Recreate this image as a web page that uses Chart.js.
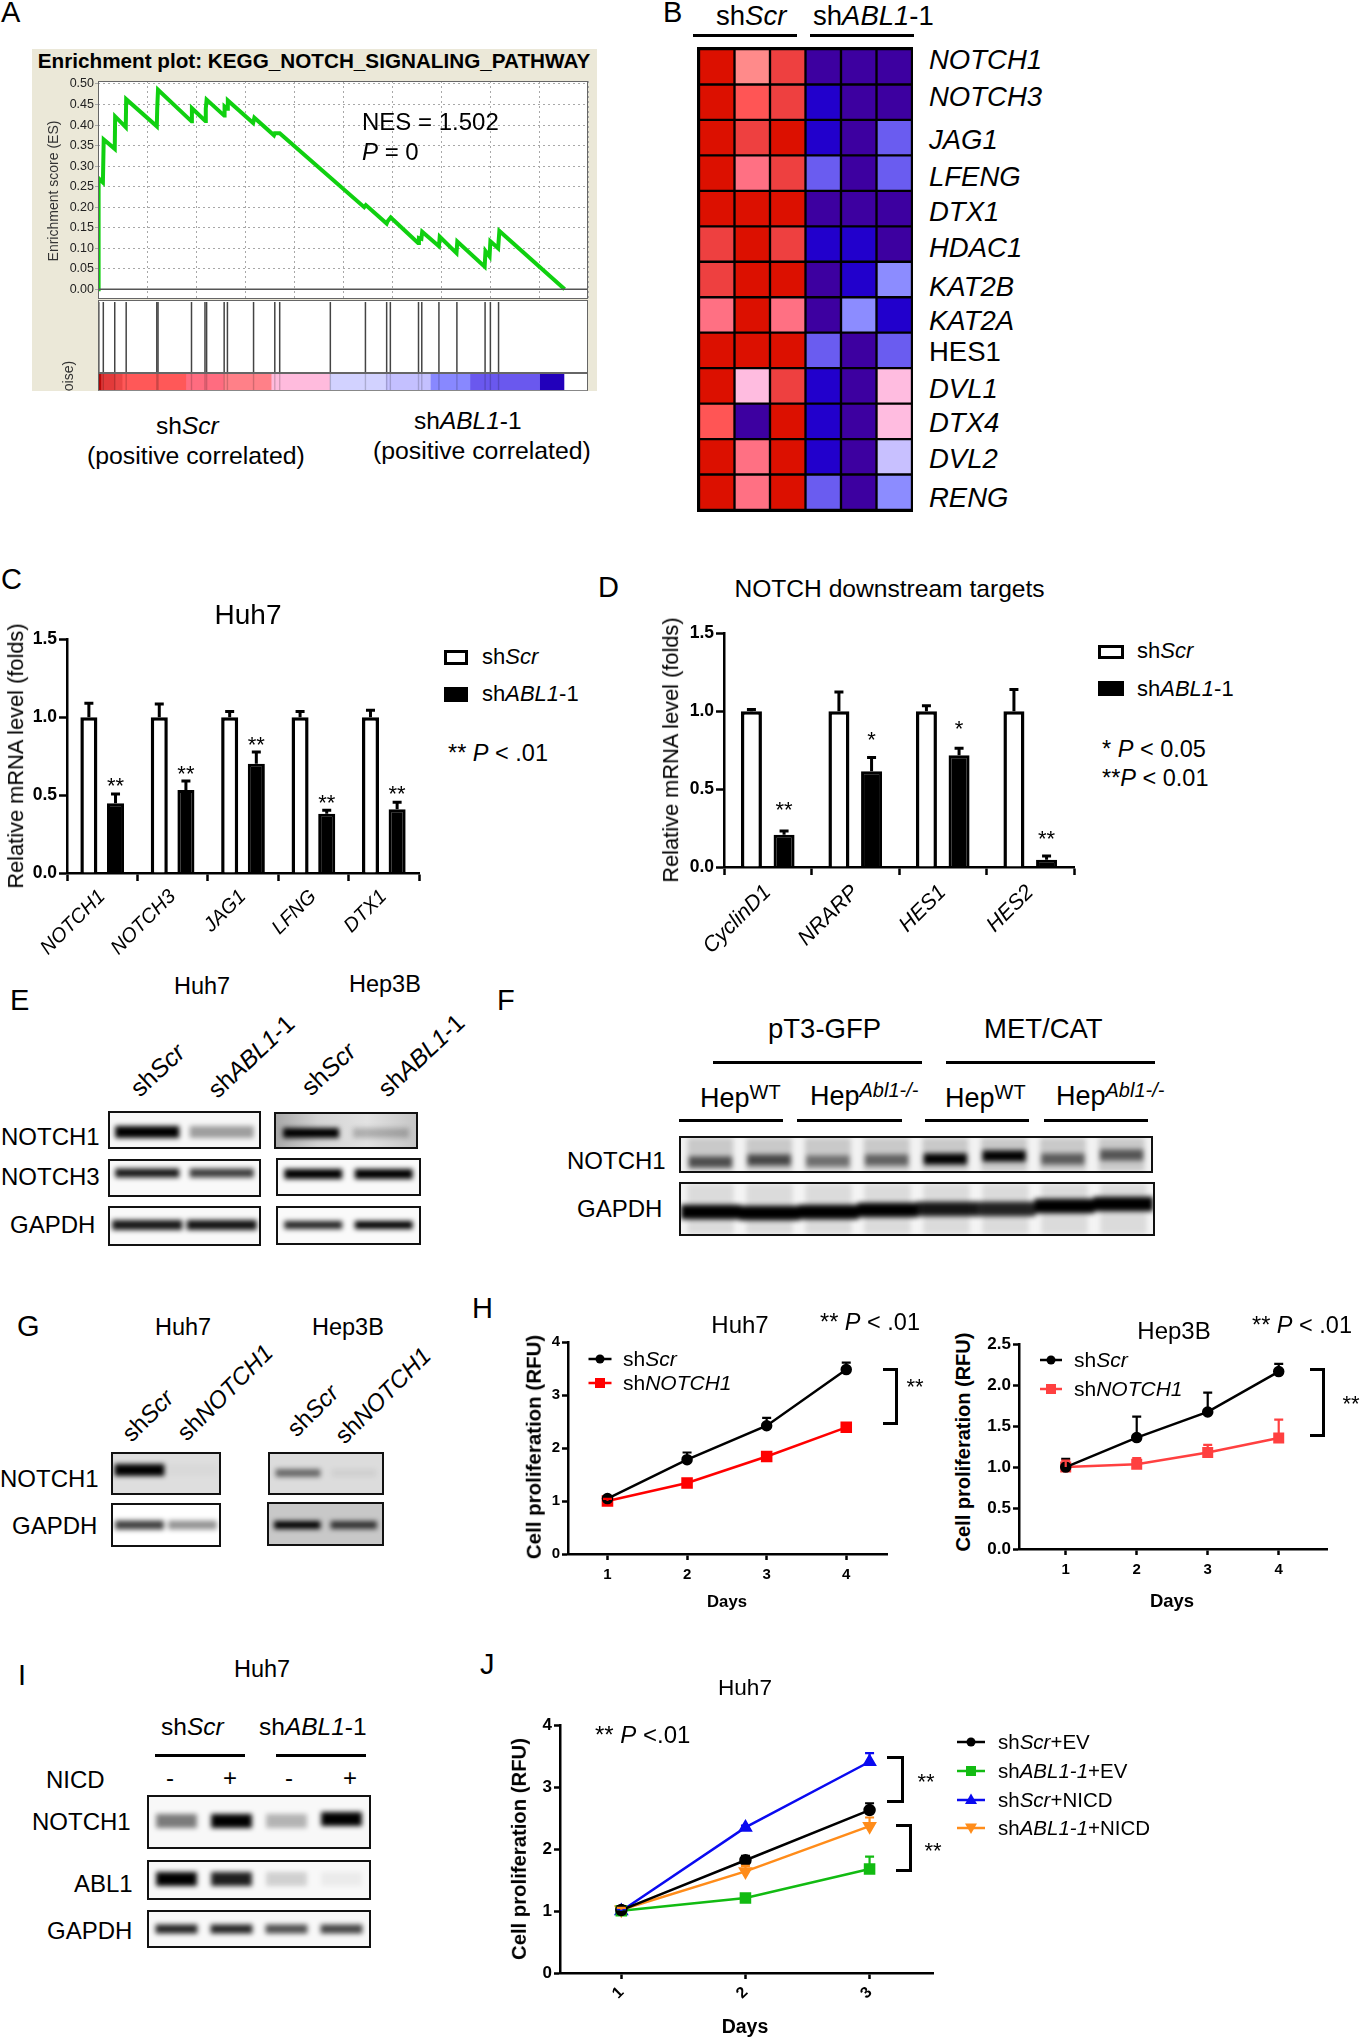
<!DOCTYPE html>
<html>
<head>
<meta charset="utf-8">
<title>NOTCH figure</title>
<script src="https://cdn.jsdelivr.net/npm/chart.js@4/dist/chart.umd.min.js"></script>
<style>
    html, body { margin: 0; padding: 0; background: #fff; }
    #page { position: relative; width: 1360px; height: 2040px; overflow: hidden; font-family: "Liberation Sans", Arial, sans-serif; color: #000; }
    #page > *, .blot > * { position: absolute; }
    .t { white-space: nowrap; }
    sup { font-size: 0.74em; line-height: 0; vertical-align: 0.42em; }
</style>
</head>
<body>
<div id="page"></div>
<script>
// A: enrichment plot
const esRanks = [0, 20, 42, 255, 297, 871, 892, 1444, 1466, 3059, 3080, 3122, 4864, 4885, 5586, 5607, 5650, 6563, 6584, 6712, 6754, 8071, 8135, 9154, 9197, 9452, 13848, 13933, 15016, 15059, 15229, 16652, 16695, 16822, 16865, 17735, 17778, 18649, 18691, 20114, 20157, 20369, 20412, 20815, 20879, 24277];
const esScores = [0, 0.14, 0.27, 0.26, 0.365, 0.342, 0.421, 0.395, 0.463, 0.397, 0.44, 0.486, 0.409, 0.441, 0.41, 0.44, 0.462, 0.423, 0.445, 0.44, 0.46, 0.405, 0.418, 0.375, 0.38, 0.38, 0.2, 0.205, 0.16, 0.165, 0.175, 0.113, 0.125, 0.123, 0.14, 0.105, 0.128, 0.088, 0.116, 0.055, 0.093, 0.08, 0.117, 0.1, 0.142, 0];
const hitRanks = [0, 42, 276, 871, 1466, 3059, 3122, 4864, 5565, 5650, 6563, 6733, 8092, 9197, 9452, 12086, 13912, 15016, 15208, 16673, 16843, 17735, 18670, 20136, 20412, 20837];
const rankBarEdges = [0, 149, 871, 1253, 4567, 6521, 9006, 12043, 14953, 17289, 19350, 22975, 24240];
const rankBarColors = ["#b80808", "#e23a3a", "#ea4545", "#ff5858", "#ff6c80", "#ff8088", "#ffbbdd", "#d2d2ff", "#c4c0ff", "#8888ff", "#6a58ee", "#2200bb"];

// B: heatmap, levels index heatPalette
const heatGenes = ["NOTCH1", "NOTCH3", "JAG1", "LFENG", "DTX1", "HDAC1", "KAT2B", "KAT2A", "HES1", "DVL1", "DTX4", "DVL2", "RENG"];
const heatSamples = ["s1", "s2", "s3", "a1", "a2", "a3"];
const heatRows = [
    [5, 1, 4, -5, -5, -5],
    [5, 3, 4, -4, -5, -5],
    [5, 4, 5, -4, -5, -3],
    [5, 2, 4, -3, -5, -3],
    [5, 5, 5, -5, -5, -5],
    [4, 5, 4, -4, -4, -5],
    [4, 5, 5, -5, -4, -2],
    [2, 5, 2, -5, -2, -4],
    [5, 5, 5, -3, -5, -3],
    [5, 0, 4, -4, -5, 0],
    [3, -5, 5, -4, -5, 0],
    [5, 2, 5, -4, -5, -1],
    [5, 2, 5, -3, -5, -2]
];

// C and D: qPCR bars
const genesC = ["NOTCH1", "NOTCH3", "JAG1", "LFNG", "DTX1"];
const scrC = [1, 1, 1, 1, 1];
const scrErrC = [1.09, 1.086, 1.037, 1.037, 1.045];
const ablC = [0.448, 0.533, 0.702, 0.38, 0.41];
const ablErrC = [0.508, 0.591, 0.777, 0.403, 0.454];
const starLevelC = [0.597, 0.672, 0.858, 0.491, 0.544];
const starTextC = ["**", "**", "**", "**", "**"];

const genesD = ["CyclinD1", "NRARP", "HES1", "HES2"];
const scrD = [1, 1, 1, 1];
const scrErrD = [1.011, 1.125, 1.036, 1.14];
const ablD = [0.207, 0.615, 0.718, 0.047];
const ablErrD = [0.231, 0.703, 0.763, 0.07];
const starLevelD = [0.402, 0.855, 0.923, 0.218];
const starTextD = ["**", "*", "*", "**"];

// H: proliferation curves
const daysH = [1, 2, 3, 4];
const huhScr = [1.046, 1.78, 2.42, 3.48];
const huhScrErr = [1.09, 1.915, 2.57, 3.61];
const huhNotch = [1.0, 1.34, 1.84, 2.39];
const huhNotchErr = [1.04, 1.38, 1.88, 2.46];
const hepScr = [1.0, 1.36, 1.673, 2.166];
const hepScrErr = [1.1, 1.616, 1.91, 2.26];
const hepNotch = [1.0, 1.034, 1.177, 1.356];
const hepNotchErr = [1.08, 1.11, 1.27, 1.58];

// J: rescue curves
const daysJ = [1, 2, 3];
const scrEv = [1.016, 1.82, 2.63];
const scrEvErr = [1.08, 1.89, 2.74];
const ablEv = [1.005, 1.21, 1.68];
const ablEvErr = [1.03, 1.25, 1.88];
const scrNicd = [1.0, 2.35, 3.41];
const scrNicdErr = [1.03, 2.38, 3.55];
const ablNicd = [1.02, 1.64, 2.37];
const ablNicdErr = [1.05, 1.73, 2.51];

// western blot band strength per lane, 0 to 1
const eHuhNotch1 = [1, 0.36], eHuhNotch3 = [0.9, 0.75], eHuhGapdh = [0.9, 0.92];
const eHepNotch1 = [1, 0.22], eHepNotch3 = [1, 1], eHepGapdh = [0.85, 1];
const fNotch1 = [0.62, 0.65, 0.45, 0.52, 1, 1, 0.55, 0.58];
const fGapdh = [1, 1, 1, 1, 0.9, 0.85, 1, 1];
const gHuhNotch1 = [1, 0.02], gHuhGapdh = [0.75, 0.42];
const gHepNotch1 = [0.52, 0.05], gHepGapdh = [1, 0.75];
const iNotch1 = [0.5, 1, 0.28, 1], iAbl1 = [1, 0.88, 0.16, 0.05], iGapdh = [0.85, 0.85, 0.68, 0.72];

Chart.defaults.font.family = '"Liberation Sans", Arial, sans-serif';
Chart.defaults.color = "#000";
Chart.defaults.animation = false;
Chart.defaults.responsive = false;
Chart.defaults.devicePixelRatio = 1;
Chart.defaults.plugins.legend.display = false;
Chart.defaults.plugins.tooltip.enabled = false;

const page = document.getElementById("page");

function text(x, baseline, html, size, opts = {}) {
    const el = document.createElement("div");
    el.className = "t";
    el.innerHTML = html;
    el.style.left = x + "px";
    el.style.top = (baseline - 0.8465 * size) + "px";
    el.style.fontSize = size + "px";
    el.style.lineHeight = size + "px";
    if (opts.bold) el.style.fontWeight = "bold";
    if (opts.color) el.style.color = opts.color;
    if (opts.center) el.style.transform = "translateX(-50%)";
    if (opts.angle) {
        el.style.transformOrigin = `0 ${0.8465 * size}px`;
        el.style.transform = `rotate(${opts.angle}deg)`;
    }
    page.appendChild(el);
    return el;
}

function vtext(cx, cy, html, size, opts = {}) {
    const el = document.createElement("div");
    el.className = "t";
    el.innerHTML = html;
    el.style.left = cx + "px";
    el.style.top = cy + "px";
    el.style.fontSize = size + "px";
    el.style.lineHeight = size + "px";
    el.style.transform = "translate(-50%,-50%) rotate(-90deg)";
    if (opts.bold) el.style.fontWeight = "bold";
    if (opts.color) el.style.color = opts.color;
    page.appendChild(el);
}

function box(x0, y0, x1, y1, css) {
    const el = document.createElement("div");
    el.style.left = x0 + "px";
    el.style.top = y0 + "px";
    el.style.width = (x1 - x0) + "px";
    el.style.height = (y1 - y0) + "px";
    el.style.boxSizing = "border-box";
    el.style.cssText += css;
    page.appendChild(el);
    return el;
}

function rule(x0, x1, y, thick = 3) {
    box(x0, y - thick / 2, x1, y + thick / 2, "background:#000");
}

function bracket(x0, y0, x1, y1, thick = 3) {
    box(x0, y0, x1 + thick / 2, y1, `border:${thick}px solid #000;border-left:none`);
}

// canvas placed so that the plot area lands on the given rectangle
function canvasFor(plot, margin, parent = page) {
    const cv = document.createElement("canvas");
    const w = plot.r - plot.l + margin.l + margin.r;
    const h = plot.b - plot.t + margin.t + margin.b;
    cv.width = Math.round(w);
    cv.height = Math.round(h);
    cv.style.left = (plot.l - margin.l) + "px";
    cv.style.top = (plot.t - margin.t) + "px";
    cv.style.width = Math.round(w) + "px";
    cv.style.height = Math.round(h) + "px";
    parent.appendChild(cv);
    return cv;
}

// upper error bars and significance stars
const errorBars = {
    id: "errorBars",
    afterDatasetsDraw(chart) {
        const ctx = chart.ctx;
        const yScale = chart.scales.y;
        chart.data.datasets.forEach((ds, i) => {
            const meta = chart.getDatasetMeta(i);
            ctx.save();
            if (ds.errTop) {
                ctx.strokeStyle = ds.errColor || ds.borderColor;
                ctx.lineWidth = ds.errWidth || 2;
                meta.data.forEach((el, k) => {
                    const top = yScale.getPixelForValue(ds.errTop[k]);
                    const base = yScale.getPixelForValue(ds.errBase[k]);
                    const cap = ds.errCap || 4;
                    ctx.beginPath();
                    ctx.moveTo(el.x, base);
                    ctx.lineTo(el.x, top);
                    ctx.moveTo(el.x - cap, top);
                    ctx.lineTo(el.x + cap, top);
                    ctx.stroke();
                });
            }
            if (ds.starText) {
                ctx.fillStyle = "#000";
                ctx.font = '22px "Liberation Sans", Arial, sans-serif';
                ctx.textAlign = "center";
                ctx.textBaseline = "alphabetic";
                meta.data.forEach((el, k) => {
                    ctx.fillText(ds.starText[k], el.x, yScale.getPixelForValue(ds.starLevel[k]) + 13);
                });
            }
            ctx.restore();
        });
    }
};

function axisStyle(len) {
    return {
        border: { color: "#000", width: 2.5 },
        grid: { display: true, drawOnChartArea: false, drawTicks: true, tickLength: len, tickWidth: 2.5, tickColor: "#000" }
    };
}

function barChart(plot, labels, sets, labelSize, labelPad, barPct, catPct) {
    const margin = { l: 66, t: 12, r: 12, b: 92 };
    new Chart(canvasFor(plot, margin), {
        type: "bar",
        data: {
            labels: labels,
            datasets: [
                { data: sets.scr, backgroundColor: "#fff", borderColor: "#000", borderWidth: 3.5, errTop: sets.scrErr, errBase: sets.scr, errWidth: 3, errCap: 4.5 },
                { data: sets.abl, backgroundColor: "#000", borderColor: "#000", borderWidth: 3, errTop: sets.ablErr, errBase: sets.abl, errWidth: 3, errCap: 4.5, starText: sets.starText, starLevel: sets.starLevel }
            ]
        },
        options: {
            layout: { padding: { top: margin.t, right: margin.r } },
            datasets: { bar: { barPercentage: barPct, categoryPercentage: catPct } },
            scales: {
                x: {
                    ...axisStyle(8),
                    ticks: { font: { size: labelSize, style: "italic" }, minRotation: 45, maxRotation: 45, autoSkip: false, padding: labelPad },
                    afterFit: (s) => { s.height = margin.b; }
                },
                y: {
                    ...axisStyle(8),
                    min: 0, max: 1.5,
                    ticks: { stepSize: 0.5, font: { size: 17.5, weight: "bold" }, padding: 2, callback: (v) => v.toFixed(1) },
                    afterFit: (s) => { s.width = margin.l; }
                }
            }
        },
        plugins: [errorBars]
    });
}

function lineChart(plot, spec) {
    const margin = { l: 44, t: 12, r: 10, b: 48 };
    new Chart(canvasFor(plot, margin), {
        type: "scatter",
        data: {
            datasets: spec.series.map((s) => ({
                data: spec.days.map((d, i) => ({ x: d, y: s.values[i] })),
                showLine: true,
                borderColor: s.color,
                backgroundColor: s.color,
                borderWidth: 2.5,
                pointStyle: s.marker,
                pointRotation: s.rotate || 0,
                pointRadius: s.radius,
                errTop: s.err,
                errBase: s.values,
                errWidth: 2.2,
                errCap: 4.5
            }))
        },
        options: {
            layout: { padding: { top: margin.t, right: margin.r } },
            scales: {
                x: {
                    ...axisStyle(6),
                    type: "linear",
                    min: spec.xMin, max: spec.xMax,
                    ticks: { stepSize: 1, precision: 0, includeBounds: false, autoSkip: false, font: { size: spec.xFont, weight: "bold" }, padding: spec.xPad || 6, minRotation: spec.xRot || 0, maxRotation: spec.xRot || 0 },
                    afterFit: (s) => { s.height = margin.b; }
                },
                y: {
                    ...axisStyle(6),
                    min: 0, max: spec.yMax,
                    ticks: { stepSize: spec.yStep, font: { size: spec.yFont, weight: "bold" }, padding: 2, callback: (v) => spec.yStep < 1 ? v.toFixed(1) : String(v) },
                    afterFit: (s) => { s.width = margin.l; }
                }
            }
        },
        plugins: [errorBars]
    });
}

function lineKey(x0, x1, y, color, marker) {
    const cx = (x0 + x1) / 2;
    const shapes = {
        circle: `<circle cx="14" cy="10" r="4.5" fill="${color}"/>`,
        rect: `<rect x="9" y="5" width="10" height="10" fill="${color}"/>`,
        up: `<polygon points="14,3.5 20,14 8,14" fill="${color}"/>`,
        down: `<polygon points="14,16 20,5.5 8,5.5" fill="${color}"/>`
    };
    const el = document.createElement("div");
    el.style.left = (cx - 14) + "px";
    el.style.top = (y - 10) + "px";
    el.innerHTML = `<svg width="28" height="20" style="display:block;overflow:visible"><line x1="${x0 - cx + 14}" y1="10" x2="${x1 - cx + 14}" y2="10" stroke="${color}" stroke-width="2.5"/>${shapes[marker]}</svg>`;
    page.appendChild(el);
}

// one framed blot, each lane a floating bar on the blot's own axes
function blot(x0, y0, x1, y1, bg, bands, centre, half, barPct = 0.8, smear = 0) {
    const frame = box(x0, y0, x1, y1, `background:${bg};border:2px solid #111;overflow:hidden`);
    frame.className = "blot";
    const h = y1 - y0 - 4;
    const plot = { l: 0, t: 0, r: x1 - x0 - 4, b: h };
    const cv = canvasFor(plot, { l: 0, t: 0, r: 0, b: 0 }, frame);
    cv.style.filter = "blur(2.4px)";
    const mid = (i) => (Array.isArray(centre) ? centre[i] : centre) - y0 - 2;
    const datasets = [{
        data: bands.map((b, i) => [mid(i) - half, mid(i) + half]),
        backgroundColor: bands.map((b) => `rgba(0,0,0,${b})`),
        barPercentage: barPct,
        categoryPercentage: 1
    }];
    if (smear) {
        datasets.push({
            data: bands.map(() => [0, h]),
            backgroundColor: `rgba(0,0,0,${smear})`,
            barPercentage: 0.78,
            categoryPercentage: 1
        });
    }
    new Chart(cv, {
        type: "bar",
        data: { labels: bands.map((b, i) => i + 1), datasets: datasets },
        options: {
            grouped: false,
            scales: {
                x: { display: false },
                y: { display: false, reverse: true, min: 0, max: h }
            }
        }
    });
}

/* ---------- panel letters ---------- */
[["A", 1, 23], ["B", 663, 23], ["C", 1, 590], ["D", 598, 598], ["E", 10, 1011], ["F", 497, 1011], ["G", 17, 1337], ["H", 472, 1319], ["I", 18, 1686], ["J", 480, 1675]]
    .forEach(([l, x, y]) => text(x, y, l, 29));

/* ---------- A ---------- */
box(32, 49, 597, 391, "background:#ebe8d8");
text(314, 69, "Enrichment plot: KEGG_NOTCH_SIGNALING_PATHWAY", 20.7, { bold: true, center: true });
box(98.4, 81, 588, 299, "background:#fff");
box(98.4, 300, 588, 373, "background:#fff");
box(98.4, 373, 588, 391, "background:#fff");

const esPlot = { l: 98.4, t: 81, r: 588, b: 299 };
const rankMax = 25490;
new Chart(canvasFor(esPlot, { l: 50, t: 10, r: 4, b: 10 }), {
    type: "scatter",
    data: {
        datasets: [
            { data: [{ x: 0, y: 0 }, { x: rankMax, y: 0 }], showLine: true, borderColor: "#555", borderWidth: 1.6, pointRadius: 0 },
            { data: esRanks.map((r, i) => ({ x: r, y: esScores[i] })), showLine: true, borderColor: "#10d010", borderWidth: 4, pointRadius: 0 }
        ]
    },
    options: {
        layout: { padding: { top: 10, right: 4 } },
        scales: {
            x: {
                type: "linear", min: 0, max: rankMax,
                border: { display: false, dash: [2, 3] },
                grid: { color: "#a8a8a8", drawTicks: false },
                ticks: { display: false, stepSize: 2500 },
                afterFit: (s) => { s.height = 10; }
            },
            y: {
                min: -0.0237, max: 0.5073,
                border: { display: false, dash: [2, 3] },
                grid: { color: "#a8a8a8", tickLength: 3 },
                ticks: { stepSize: 0.05, includeBounds: false, font: { size: 12.5 }, color: "#222", padding: 1, callback: (v) => v.toFixed(2) },
                afterFit: (s) => { s.width = 50; }
            }
        }
    }
});

new Chart(canvasFor({ l: 98.4, t: 302, r: 588, b: 373 }, { l: 0, t: 0, r: 0, b: 0 }), {
    type: "scatter",
    data: {
        datasets: hitRanks.map((r) => ({
            data: [{ x: r, y: 0 }, { x: r, y: 1 }], showLine: true, borderColor: "#444", borderWidth: 1.5, pointRadius: 0
        }))
    },
    options: { scales: { x: { display: false, type: "linear", min: 0, max: rankMax }, y: { display: false, min: 0, max: 1 } } }
});

// colour strip, with a faint darker stripe at every hit
new Chart(canvasFor({ l: 98.4, t: 374, r: 588, b: 391 }, { l: 0, t: 0, r: 0, b: 0 }), {
    type: "bar",
    data: {
        labels: ["metric"],
        datasets: hitRanks.map((r) => ({
            data: [[r - 20, r + 20]], backgroundColor: "rgba(0,0,0,0.18)", barPercentage: 1, categoryPercentage: 1
        })).concat(rankBarColors.map((c, i) => ({
            data: [[rankBarEdges[i], rankBarEdges[i + 1]]], backgroundColor: c, barPercentage: 1, categoryPercentage: 1
        })))
    },
    options: {
        indexAxis: "y", grouped: false,
        scales: { x: { display: false, min: 0, max: rankMax }, y: { display: false } }
    }
});
box(98.4, 81, 588, 299, "border:1.5px solid #666");
box(98.4, 299.5, 588, 373, "border:1.5px solid #666");
box(98.4, 373, 588, 391, "border:1.5px solid #666;border-bottom:1.5px solid #888");
vtext(53, 191, "Enrichment score (ES)", 14, { color: "#333" });
vtext(68, 376, "oise)", 14, { color: "#333" });
text(362, 130, "NES = 1.502", 24);
text(362, 160, "<i>P</i> = 0", 24);
text(156, 435, "sh<i>Scr</i>", 24.5);
text(87, 465, "(positive correlated)", 24.8);
text(414, 430, "sh<i>ABL1</i>-1", 24.5);
text(373, 460, "(positive correlated)", 24.8);

/* ---------- B ---------- */
const heatPalette = { 5: "#dc1000", 4: "#ee4040", 3: "#ff5555", 2: "#ff7083", 1: "#ff8a8a", 0: "#ffbce0", "-1": "#c8c0ff", "-2": "#8c8cff", "-3": "#6a5cf0", "-4": "#2200cc", "-5": "#3d00a0" };
box(697.3, 46.6, 912.7, 512.5, "background:#000");
new Chart(canvasFor({ l: 698.5, t: 48.6, r: 911.5, b: 509.8 }, { l: 0, t: 0, r: 0, b: 0 }), {
    type: "bar",
    data: {
        labels: heatSamples,
        datasets: heatRows.slice().reverse().map((row) => ({
            data: row.map(() => 1),
            backgroundColor: row.map((v) => heatPalette[v]),
            borderColor: "#000",
            borderWidth: 1.5,
            borderSkipped: false,
            barPercentage: 1,
            categoryPercentage: 1
        }))
    },
    options: { scales: { x: { display: false, stacked: true }, y: { display: false, stacked: true, min: 0, max: heatGenes.length } } }
});
const geneBaselines = [69, 106, 149, 186, 221, 257, 296, 330, 361.5, 398, 432.4, 468, 507];
heatGenes.forEach((g, i) => text(929, geneBaselines[i], g === "HES1" ? g : `<i>${g}</i>`, 27.5));
text(716, 25, "sh<i>Scr</i>", 27.5);
text(813, 25, "sh<i>ABL1</i>-1", 27.5);
rule(693, 797, 35.5, 2.5);
rule(810, 914, 35.5, 2.5);

/* ---------- C ---------- */
barChart({ l: 67, t: 639, r: 419, b: 873.3 }, genesC,
    { scr: scrC, scrErr: scrErrC, abl: ablC, ablErr: ablErrC, starText: starTextC, starLevel: starLevelC }, 20, 4, 0.64, 0.757);
vtext(16, 756, "Relative mRNA level (folds)", 21.8);
text(248, 625, "Huh7", 28, { center: true });
box(444, 650, 468, 665, "border:3px solid #000;background:#fff");
box(444, 687, 468, 702, "background:#000");
text(482, 665, "sh<i>Scr</i>", 22);
text(482, 702, "sh<i>ABL1</i>-1", 22);
text(448, 762, "** <i>P</i> &lt; .01", 23.5);

/* ---------- D ---------- */
barChart({ l: 723.7, t: 632.7, r: 1073.5, b: 866.7 }, genesD,
    { scr: scrD, scrErr: scrErrD, abl: ablD, ablErr: ablErrD, starText: starTextD, starLevel: starLevelD }, 21.5, 5, 0.644, 0.746);
vtext(671, 750, "Relative mRNA level (folds)", 21.8);
text(889.5, 598, "NOTCH downstream targets", 24.6, { center: true });
box(1098, 645, 1124, 659, "border:3px solid #000;background:#fff");
box(1098, 681, 1124, 696, "background:#000");
text(1137, 659, "sh<i>Scr</i>", 22);
text(1137, 697, "sh<i>ABL1</i>-1", 22);
text(1102, 758, "* <i>P</i> &lt; 0.05", 23.5);
text(1102, 787, "**<i>P</i> &lt; 0.01", 23.5);

/* ---------- E ---------- */
text(174, 995, "Huh7", 23.5);
text(349, 993, "Hep3B", 23.5);
text(140, 1098, "sh<i>Scr</i>", 25, { angle: -43 });
text(218, 1100, "sh<i>ABL1</i>-1", 24.5, { angle: -43 });
text(311, 1097, "sh<i>Scr</i>", 25, { angle: -43 });
text(388, 1099, "sh<i>ABL1</i>-1", 24.5, { angle: -43 });
text(1, 1145, "NOTCH1", 24);
text(1, 1185, "NOTCH3", 24);
text(10, 1233, "GAPDH", 24);
blot(108, 1111, 261, 1149, "#f7f7f7", eHuhNotch1, 1132, 6, 0.86);
blot(108, 1159, 261, 1197, "#f9f9f9", eHuhNotch3, 1173, 4.5, 0.86);
blot(108, 1206, 261, 1246, "#f9f9f9", eHuhGapdh, 1225, 5, 0.94);
blot(274, 1112, 418, 1149, "linear-gradient(90deg,#a8a8a8,#d4d4d4 30%,#e2e2e2 65%,#c6c6c6)", eHepNotch1, 1133, 5, 0.8);
blot(276, 1158, 421, 1196, "#f9f9f9", eHepNotch3, 1174, 5, 0.82);
blot(276, 1206, 421, 1245, "#fafafa", eHepGapdh, 1225, 4, 0.82);

/* ---------- F ---------- */
text(768, 1038, "pT3-GFP", 27.5);
text(984, 1038, "MET/CAT", 27.5);
rule(713, 922, 1062);
rule(946, 1155, 1062);
text(700, 1108, "Hep<sup>WT</sup>", 27);
text(810, 1106, "Hep<sup><i>Abl1-/-</i></sup>", 27);
text(945, 1108, "Hep<sup>WT</sup>", 27);
text(1056, 1106, "Hep<sup><i>Abl1-/-</i></sup>", 27);
rule(679, 783, 1120);
rule(797, 902, 1120);
rule(925, 1029, 1120);
rule(1044, 1148, 1120);
text(567, 1169, "NOTCH1", 24);
text(577, 1217, "GAPDH", 24);
blot(679, 1136, 1153, 1173, "#f2f2f2", fNotch1, [1162, 1160, 1161, 1160, 1159, 1156, 1159, 1155], 5.5, 0.74, 0.17);
blot(679, 1182, 1155, 1236, "#f4f4f4", fGapdh, [1212, 1213, 1212, 1210, 1209, 1209, 1206, 1204], 7, 1, 0.1);

/* ---------- G ---------- */
text(155, 1336, "Huh7", 23.5);
text(312, 1336, "Hep3B", 23.5);
text(132, 1443, "sh<i>Scr</i>", 24, { angle: -45 });
text(187, 1442, "sh<i>NOTCH1</i>", 24, { angle: -45 });
text(297, 1438, "sh<i>Scr</i>", 24, { angle: -45 });
text(345, 1445, "sh<i>NOTCH1</i>", 24, { angle: -45 });
text(0, 1487, "NOTCH1", 24);
text(12, 1534, "GAPDH", 24);
blot(111, 1452, 221, 1495, "#dedede", gHuhNotch1, 1470, 6, 0.94);
blot(111, 1503, 221, 1547, "#fff", gHuhGapdh, 1525, 4.5, 0.92);
blot(268, 1452, 384, 1495, "#dcdcdc", gHepNotch1, 1473, 4, 0.8);
blot(267, 1502, 384, 1546, "#c8c8c8", gHepGapdh, 1525, 4, 0.82);

/* ---------- H ---------- */
lineChart({ l: 568.3, t: 1342, r: 887, b: 1553.7 }, {
    days: daysH, xMin: 0.504, xMax: 4.512, yMax: 4, yStep: 1, xFont: 15, yFont: 15,
    series: [
        { values: huhScr, err: huhScrErr, color: "#000", marker: "circle", radius: 4.5 },
        { values: huhNotch, err: huhNotchErr, color: "#ff0000", marker: "rect", radius: 6.4 }
    ]
});
vtext(534, 1447, "Cell proliferation (RFU)", 20.5, { bold: true });
text(727, 1608, "Days", 16.7, { bold: true, center: true });
text(740, 1333, "Huh7", 24, { center: true });
text(820, 1331, "** <i>P</i> &lt; .01", 23.5);
lineKey(588, 611, 1358.7, "#000", "circle");
lineKey(588, 611, 1383, "#ff0000", "rect");
text(623, 1366, "sh<i>Scr</i>", 21);
text(623, 1390, "sh<i>NOTCH1</i>", 21);
bracket(883, 1368, 896, 1425);
text(915, 1395, "**", 22, { center: true });

lineChart({ l: 1019.3, t: 1343.7, r: 1327.3, b: 1548.3 }, {
    days: daysH, xMin: 0.342, xMax: 4.68, yMax: 2.5, yStep: 0.5, xFont: 15, yFont: 17,
    series: [
        { values: hepScr, err: hepScrErr, color: "#000", marker: "circle", radius: 4.5 },
        { values: hepNotch, err: hepNotchErr, color: "#ff4040", marker: "rect", radius: 6 }
    ]
});
vtext(963, 1442, "Cell proliferation (RFU)", 20, { bold: true });
text(1172, 1608, "Days", 18.5, { bold: true, center: true });
text(1174, 1339, "Hep3B", 24, { center: true });
text(1252, 1334, "** <i>P</i> &lt; .01", 23.5);
lineKey(1040, 1062, 1360, "#000", "circle");
lineKey(1040, 1062, 1389, "#ff4040", "rect");
text(1074, 1367, "sh<i>Scr</i>", 21);
text(1074, 1396, "sh<i>NOTCH1</i>", 21);
bracket(1310, 1368, 1323, 1437);
text(1351, 1412, "**", 22, { center: true });

/* ---------- I ---------- */
text(234, 1678, "Huh7", 23.5);
text(161, 1736, "sh<i>Scr</i>", 24.5);
text(259, 1736, "sh<i>ABL1</i>-1", 24.5);
rule(155, 245, 1755.6, 2.5);
rule(276, 366, 1755.6, 2.5);
text(46, 1788, "NICD", 24);
text(170, 1786, "-", 24, { center: true });
text(230, 1786, "+", 24, { center: true });
text(289, 1786, "-", 24, { center: true });
text(350, 1786, "+", 24, { center: true });
text(32, 1830, "NOTCH1", 24);
text(74, 1892, "ABL1", 24);
text(47, 1939, "GAPDH", 24);
blot(147, 1795, 371, 1849, "#f8f8f8", iNotch1, [1821, 1821, 1821, 1819], 7, 0.74);
blot(147, 1860, 371, 1900, "#f8f8f8", iAbl1, 1879, 7, 0.74);
blot(147, 1910, 371, 1948, "#f8f8f8", iGapdh, 1929, 4.5, 0.76);

/* ---------- J ---------- */
lineChart({ l: 560, t: 1725, r: 932.7, b: 1973 }, {
    days: daysJ, xMin: 0.506, xMax: 3.511, yMax: 4, yStep: 1, xFont: 16, yFont: 17, xRot: 45, xPad: 4,
    series: [
        { values: scrEv, err: scrEvErr, color: "#000", marker: "circle", radius: 5 },
        { values: ablEv, err: ablEvErr, color: "#12bb12", marker: "rect", radius: 6.4 },
        { values: scrNicd, err: scrNicdErr, color: "#0a0af0", marker: "triangle", radius: 6 },
        { values: ablNicd, err: ablNicdErr, color: "#ff8c1a", marker: "triangle", rotate: 180, radius: 6 }
    ]
});
vtext(519, 1849, "Cell proliferation (RFU)", 20.3, { bold: true });
text(745, 2034, "Days", 19.5, { bold: true, center: true });
text(745, 1696, "Huh7", 22.6, { center: true });
text(595, 1743, "** <i>P</i> &lt;.01", 24);
lineKey(957, 985, 1742, "#000", "circle");
lineKey(957, 985, 1771, "#12bb12", "rect");
lineKey(957, 985, 1800, "#0a0af0", "up");
lineKey(957, 985, 1828, "#ff8c1a", "down");
text(998, 1749, "sh<i>Scr</i>+EV", 20.5);
text(998, 1778, "sh<i>ABL1-1</i>+EV", 20.5);
text(998, 1807, "sh<i>Scr</i>+NICD", 20.5);
text(998, 1835, "sh<i>ABL1-1</i>+NICD", 20.5);
bracket(887, 1756, 902, 1803);
text(926, 1790, "**", 22, { center: true });
bracket(896, 1824, 910, 1872);
text(933, 1859, "**", 22, { center: true });
</script>
</body>
</html>
